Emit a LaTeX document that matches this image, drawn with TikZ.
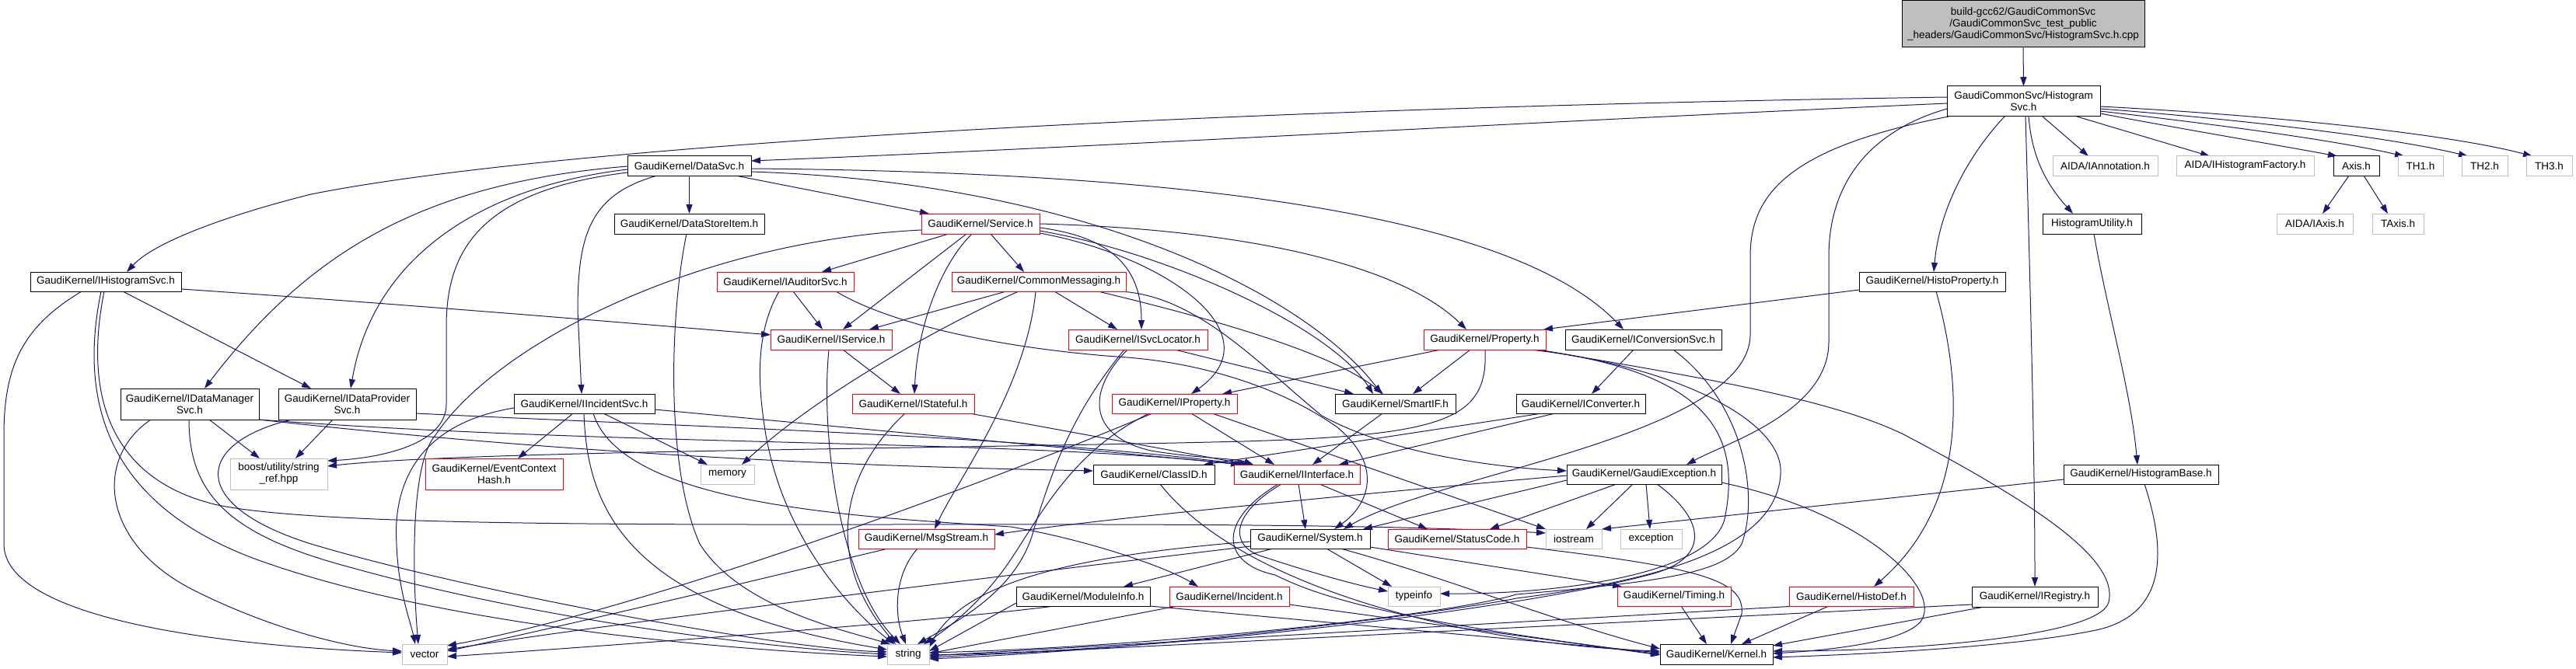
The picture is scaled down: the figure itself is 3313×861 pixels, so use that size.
\documentclass[tikz,border=0pt]{standalone}
\usepackage{fontspec}
\setmainfont{Liberation Sans}
\usetikzlibrary{arrows.meta}
\pgfdeclarelayer{edgelayer}
\pgfsetlayers{edgelayer,main}
\definecolor{edgec}{HTML}{191970}
\definecolor{gyb}{HTML}{BFBFBF}
\begin{document}
\begin{tikzpicture}[x=1pt,y=-1pt,
  box/.style={rectangle,inner sep=0pt,outer sep=0pt,line width=1pt,align=center,fill=white,font=\fontsize{13.5}{15}\selectfont},
  bk/.style={box,draw=black},
  rd/.style={box,draw=red},
  gy/.style={box,draw=gyb},
  rt/.style={box,draw=black,fill=gyb},
  ed/.style={draw=edgec,line width=1pt,-{Triangle[length=12pt,width=8pt]}}]
\useasboundingbox (0,0) rectangle (3313,861);
% ---------------- nodes ----------------
\node[rt,minimum width=312pt,minimum height=60pt] (root) at (2602,31) {build-gcc62/GaudiCommonSvc\\/GaudiCommonSvc\_test\_public\\\_headers/GaudiCommonSvc/HistogramSvc.h.cpp};
\node[bk,minimum width=197pt,minimum height=39pt] (hsvc) at (2602.5,130.5) {GaudiCommonSvc/Histogram\\Svc.h};
\node[bk,minimum width=159pt,minimum height=25pt] (datasvc) at (886.5,213.5) {GaudiKernel/DataSvc.h};
\node[bk,minimum width=194pt,minimum height=25pt] (ihsvc) at (136,362.5) {GaudiKernel/IHistogramSvc.h};
\node[bk,minimum width=178pt,minimum height=40pt] (idms) at (244,520) {GaudiKernel/IDataManager\\Svc.h};
\node[bk,minimum width=177pt,minimum height=40pt] (idps) at (446.5,520) {GaudiKernel/IDataProvider\\Svc.h};
\node[bk,minimum width=193pt,minimum height=26pt] (dsitem) at (886.5,288) {GaudiKernel/DataStoreItem.h};
\node[rd,minimum width=152pt,minimum height=26pt] (service) at (1261,288) {GaudiKernel/Service.h};
\node[rd,minimum width=176pt,minimum height=25pt] (iaud) at (1010,362.5) {GaudiKernel/IAuditorSvc.h};
\node[rd,minimum width=224pt,minimum height=25pt] (commsg) at (1336,362.5) {GaudiKernel/CommonMessaging.h};
\node[rd,minimum width=156pt,minimum height=26pt] (iservice) at (1069,437) {GaudiKernel/IService.h};
\node[rd,minimum width=179pt,minimum height=26pt] (isvcloc) at (1463.5,437) {GaudiKernel/ISvcLocator.h};
\node[rd,minimum width=157pt,minimum height=26pt] (property) at (1909.5,437) {GaudiKernel/Property.h};
\node[bk,minimum width=201pt,minimum height=26pt] (iconvsvc) at (2113.5,437) {GaudiKernel/IConversionSvc.h};
\node[bk,minimum width=188pt,minimum height=25pt] (histoprop) at (2485,362.5) {GaudiKernel/HistoProperty.h};
\node[bk,minimum width=127pt,minimum height=26pt] (histutil) at (2690.5,288) {HistogramUtility.h};
\node[gy,minimum width=135pt,minimum height=25pt] (aidaann) at (2707.5,213.5) {AIDA/IAnnotation.h};
\node[gy,minimum width=177pt,minimum height=25pt] (aidahf) at (2887.5,213.5) {AIDA/IHistogramFactory.h};
\node[bk,minimum width=59pt,minimum height=25pt] (axis) at (3030.5,213.5) {Axis.h};
\node[gy,minimum width=58pt,minimum height=25pt] (th1) at (3113,213.5) {TH1.h};
\node[gy,minimum width=59pt,minimum height=25pt] (th2) at (3195.5,213.5) {TH2.h};
\node[gy,minimum width=59pt,minimum height=25pt] (th3) at (3278.5,213.5) {TH3.h};
\node[gy,minimum width=98pt,minimum height=26pt] (aidaaxis) at (2977,288) {AIDA/IAxis.h};
\node[gy,minimum width=66pt,minimum height=26pt] (taxis) at (3084,288) {TAxis.h};
\node[bk,minimum width=181pt,minimum height=25pt] (iincsvc) at (751.5,519.5) {GaudiKernel/IIncidentSvc.h};
\node[rd,minimum width=157pt,minimum height=25pt] (istateful) at (1174.5,519.5) {GaudiKernel/IStateful.h};
\node[rd,minimum width=161pt,minimum height=25pt] (iproperty) at (1510.5,519.5) {GaudiKernel/IProperty.h};
\node[bk,minimum width=155pt,minimum height=25pt] (smartif) at (1794.5,519.5) {GaudiKernel/SmartIF.h};
\node[bk,minimum width=166pt,minimum height=25pt] (iconverter) at (2033,519.5) {GaudiKernel/IConverter.h};
\node[gy,minimum width=125pt,minimum height=40pt] (boost) at (358.5,610) {boost/utility/string\\\_ref.hpp};
\node[rd,minimum width=177pt,minimum height=40pt] (evch) at (635.5,610) {GaudiKernel/EventContext\\Hash.h};
\node[gy,minimum width=69pt,minimum height=25pt] (memory) at (935.5,610.5) {memory};
\node[bk,minimum width=156pt,minimum height=25pt] (classid) at (1484,610.5) {GaudiKernel/ClassID.h};
\node[rd,minimum width=162pt,minimum height=25pt] (iinterface) at (1668,610.5) {GaudiKernel/IInterface.h};
\node[bk,minimum width=199pt,minimum height=25pt] (gexc) at (2114.5,610.5) {GaudiKernel/GaudiException.h};
\node[bk,minimum width=199pt,minimum height=25pt] (histbase) at (2753.5,610.5) {GaudiKernel/HistogramBase.h};
\node[rd,minimum width=175pt,minimum height=25pt] (msgstream) at (1191.5,693.5) {GaudiKernel/MsgStream.h};
\node[bk,minimum width=154pt,minimum height=25pt] (system) at (1685,693.5) {GaudiKernel/System.h};
\node[rd,minimum width=178pt,minimum height=25pt] (statuscode) at (1874,693.5) {GaudiKernel/StatusCode.h};
\node[gy,minimum width=72pt,minimum height=25pt] (iostream) at (2024,693.5) {iostream};
\node[gy,minimum width=79pt,minimum height=25pt] (exception) at (2123.5,693.5) {exception};
\node[bk,minimum width=172pt,minimum height=25pt] (moduleinfo) at (1393,767.5) {GaudiKernel/ModuleInfo.h};
\node[rd,minimum width=154pt,minimum height=25pt] (incident) at (1581,767.5) {GaudiKernel/Incident.h};
\node[gy,minimum width=67pt,minimum height=25pt] (typeinfo) at (1818.5,767.5) {typeinfo};
\node[rd,minimum width=146pt,minimum height=25pt] (timing) at (2153,767.5) {GaudiKernel/Timing.h};
\node[rd,minimum width=160pt,minimum height=25pt] (histodef) at (2381,767.5) {GaudiKernel/HistoDef.h};
\node[bk,minimum width=162pt,minimum height=26pt] (iregistry) at (2617,768) {GaudiKernel/IRegistry.h};
\node[gy,minimum width=58pt,minimum height=26pt] (vector) at (546,842) {vector};
\node[gy,minimum width=54pt,minimum height=26pt] (string) at (1168,842) {string};
\node[bk,minimum width=145pt,minimum height=26pt] (kernel) at (2207.5,842) {GaudiKernel/Kernel.h};
% ---------------- edges ----------------
\begin{pgfonlayer}{edgelayer}
\draw[ed] (root.south) -- (hsvc.north);
\draw[ed] (hsvc.west |- 0,133) .. controls (1900,160) and (1400,190) .. (datasvc.east |- 0,207);
\draw[ed] (hsvc.west |- 0,125) .. controls (1500,140) and (700,190) .. (400,250) .. controls (300,275) and (200,310) .. (163,0 |- ihsvc.north);
\draw[ed] (2506,0 |- hsvc.south) .. controls (2300,190) and (2251,250) .. (2251,330) -- (2251,430) .. controls (2251,560) and (1850,610) .. (1728,0 |- system.north);
\draw[ed] (hsvc.west |- 0,140) .. controls (2400,170) and (2352,240) .. (2352,330) -- (2352,440) .. controls (2352,530) and (2220,570) .. (2169,0 |- gexc.north);
\draw[ed] (2578,0 |- hsvc.south) .. controls (2540,190) and (2495,260) .. (2487,0 |- histoprop.north);
\draw[ed] (2605,0 |- hsvc.south) .. controls (2612,400) and (2617,600) .. (2617,0 |- iregistry.north);
\draw[ed] (2609,0 |- hsvc.south) .. controls (2613,200) and (2630,235) .. (2666,0 |- histutil.north);
\draw[ed] (2627,0 |- hsvc.south) -- (2686,0 |- aidaann.north);
\draw[ed] (2671,0 |- hsvc.south) -- (2842,0 |- aidahf.north);
\draw[ed] (hsvc.east |- 0,146) .. controls (2800,165) and (2920,185) .. (3006,0 |- axis.north);
\draw[ed] (hsvc.east |- 0,143) .. controls (2850,160) and (3000,180) .. (3092,0 |- th1.north);
\draw[ed] (hsvc.east |- 0,140) .. controls (2900,155) and (3080,178) .. (3174,0 |- th2.north);
\draw[ed] (hsvc.east |- 0,137) .. controls (2950,150) and (3160,175) .. (3257,0 |- th3.north);
\draw[ed] (3021,0 |- axis.south) -- (2987,0 |- aidaaxis.north);
\draw[ed] (3040,0 |- axis.south) -- (3071,0 |- taxis.north);
\draw[ed] (2693,0 |- histutil.south) .. controls (2710,400) and (2740,500) .. (2749,0 |- histbase.north);
\draw[ed] (histbase.west |- 0,617) -- (iostream.north east);
\draw[ed] (2758,0 |- histbase.south) .. controls (2790,720) and (2780,790) .. (2700,810) .. controls (2600,832) and (2400,842) .. (kernel.east |- 0,846);
\draw[ed] (1978,0 |- property.south) .. controls (2150,480) and (2350,510) .. (2450,560) .. controls (2620,650) and (2725,720) .. (2712,775) .. controls (2700,820) and (2450,838) .. (kernel.east |- 0,838);
\draw[ed] (histoprop.west |- 0,373) -- (1985,0 |- property.north);
\draw[ed] (2490,0 |- histoprop.south) .. controls (2525,500) and (2530,650) .. (2410,0 |- histodef.north);
\draw[ed] (iregistry.west |- 0,778) -- (string.east |- 0,846);
\draw[ed] (2552,0 |- iregistry.south) -- (kernel.east |- 0,831);
\draw[ed] (2310,0 |- histodef.south) -- (string.east |- 0,844);
\draw[ed] (2352,0 |- histodef.south) -- (2240,0 |- kernel.north);
\draw[ed] (2162,0 |- timing.south) -- (2195,0 |- kernel.north);
\draw[ed] (statuscode.east |- 0,704) .. controls (2180,730) and (2245,745) .. (2240,790) -- (2226,0 |- kernel.north);
\draw[ed] (gexc.east |- 0,621) .. controls (2400,660) and (2500,760) .. (2470,800) .. controls (2445,830) and (2330,838) .. (kernel.east |- 0,841);
\draw[ed] (2100,0 |- gexc.south) -- (2040,0 |- iostream.north);
\draw[ed] (2117,0 |- gexc.south) -- (2122,0 |- exception.north);
\draw[ed] (2131,0 |- gexc.south) .. controls (2195,670) and (2200,720) .. (2120,740) .. controls (1950,785) and (1500,838) .. (string.east |- 0,843);
\draw[ed] (2079,0 |- gexc.south) -- (1916,0 |- statuscode.north);
\draw[ed] (gexc.west |- 0,618) -- (1753,0 |- system.north);
\draw[ed] (gexc.west |- 0,612) .. controls (1700,640) and (1400,670) .. (msgstream.east |- 0,688);
\draw[ed] (1724,0 |- system.south) .. controls (1850,740) and (2000,800) .. (kernel.west |- 0,835);
\draw[ed] (system.east |- 0,704) -- (2086,0 |- timing.north);
\draw[ed] (1706,0 |- system.south) -- (1790,0 |- typeinfo.north);
\draw[ed] (1637,0 |- system.south) -- (1445,0 |- moduleinfo.north);
\draw[ed] (system.west |- 0,697) .. controls (1380,715) and (1240,750) .. (string.east |- 0,833);
\draw[ed] (system.west |- 0,703) .. controls (1300,740) and (800,800) .. (vector.east |- 0,836);
\draw[ed] (1670,0 |- iinterface.south) -- (1679,0 |- system.north);
\draw[ed] (1697,0 |- iinterface.south) -- (1836,0 |- statuscode.north);
\draw[ed] (1648,0 |- iinterface.south) .. controls (1585,660) and (1580,700) .. (1620,715) .. controls (1680,735) and (1740,752) .. (typeinfo.west |- 0,761);
\draw[ed] (1644,0 |- iinterface.south) .. controls (1565,670) and (1570,725) .. (1640,740) .. controls (1700,770) and (1800,800) .. (kernel.west |- 0,842);
\draw[ed] (1492,0 |- classid.south) .. controls (1600,760) and (1900,830) .. (kernel.west |- 0,838);
\draw[ed] (1778,0 |- smartif.south) -- (1688,0 |- iinterface.north);
\draw[ed] (1532,0 |- iproperty.south) -- (1639,0 |- iinterface.north);
\draw[ed] (1478,0 |- iproperty.south) .. controls (1380,580) and (1340,660) .. (1300,720) .. controls (1260,780) and (1210,815) .. (1188,0 |- string.north);
\draw[ed] (1446,0 |- isvcloc.south) .. controls (1380,530) and (1355,600) .. (1330,680) .. controls (1310,760) and (1230,800) .. (1180,0 |- string.north);
\draw[ed] (1482,0 |- iproperty.south) .. controls (1200,650) and (800,790) .. (vector.east |- 0,831);
\draw[ed] (1559,0 |- iproperty.south) -- (iostream.north west);
\draw[ed] (1450,0 |- isvcloc.south) .. controls (1400,500) and (1395,560) .. (1480,580) .. controls (1540,590) and (1590,590) .. (1612,0 |- iinterface.north);
\draw[ed] (1511,0 |- isvcloc.south) -- (1741,0 |- smartif.north);
\draw[ed] (1853,0 |- property.south) -- (1572,0 |- iproperty.north);
\draw[ed] (1891,0 |- property.south) -- (1817,0 |- smartif.north);
\draw[ed] (1910,0 |- property.south) .. controls (1914,540) and (1860,560) .. (1600,568) .. controls (1200,578) and (600,580) .. (boost.east |- 0,600);
\draw[ed] (1975,0 |- property.south) .. controls (2200,480) and (2240,560) .. (2218,668) .. controls (2200,740) and (2000,765) .. (typeinfo.east |- 0,764);
\draw[ed] (1968,0 |- property.south) .. controls (2150,470) and (2295,540) .. (2290,610) .. controls (2285,700) and (2150,745) .. (1950,770) .. controls (1880,785) and (1500,835) .. (string.east |- 0,848);
\draw[ed] (2101,0 |- iconvsvc.south) -- (2047,0 |- iconverter.north);
\draw[ed] (2152,0 |- iconvsvc.south) .. controls (2245,520) and (2262,640) .. (2240,700) .. controls (2220,735) and (2150,748) .. (1950,765) .. controls (1870,790) and (1500,832) .. (string.east |- 0,840);
\draw[ed] (1983,0 |- iconverter.south) -- (1548,0 |- classid.north);
\draw[ed] (2000,0 |- iconverter.south) -- (1722,0 |- iinterface.north);
\draw[ed] (datasvc.south) -- (dsitem.north);
\draw[ed] (946,0 |- datasvc.south) -- (1195,0 |- service.north);
\draw[ed] (845,0 |- datasvc.south) .. controls (760,250) and (743,300) .. (743,400) -- (748,0 |- iincsvc.north);
\draw[ed] (datasvc.west |- 0,214) .. controls (550,235) and (400,320) .. (263,0 |- idms.north);
\draw[ed] (datasvc.west |- 0,218) .. controls (620,240) and (480,330) .. (451,0 |- idps.north);
\draw[ed] (datasvc.west |- 0,222) .. controls (620,245) and (574,320) .. (574,420) -- (574,520) .. controls (574,575) and (480,590) .. (boost.east |- 0,593);
\draw[ed] (datasvc.east |- 0,221) .. controls (1400,235) and (1680,380) .. (1777,0 |- smartif.north);
\draw[ed] (datasvc.east |- 0,217) .. controls (1600,222) and (1960,290) .. (2088,0 |- iconvsvc.north);
\draw[ed] (service.west |- 0,296) .. controls (900,310) and (640,440) .. (560,560) .. controls (525,600) and (532,760) .. (538,0 |- vector.north);
\draw[ed] (1220,0 |- service.south) -- (1057,0 |- iaud.north);
\draw[ed] (1243,0 |- service.south) -- (1084,0 |- iservice.north);
\draw[ed] (1274,0 |- service.south) -- (1317,0 |- commsg.north);
\draw[ed] (service.east |- 0,293) .. controls (1430,305) and (1468,345) .. (1468,0 |- isvcloc.north);
\draw[ed] (1250,0 |- service.south) .. controls (1210,340) and (1180,420) .. (1176,0 |- istateful.north);
\draw[ed] (service.east |- 0,300) .. controls (1500,330) and (1640,430) .. (1532,0 |- iproperty.north);
\draw[ed] (service.east |- 0,288) .. controls (1600,295) and (1800,340) .. (1886,0 |- property.north);
\draw[ed] (service.east |- 0,297) .. controls (1500,325) and (1710,420) .. (1766,0 |- smartif.north);
\draw[ed] (1412,0 |- commsg.south) .. controls (1600,420) and (1720,460) .. (1779,0 |- smartif.north);
\draw[ed] (1356,0 |- commsg.south) -- (1437,0 |- isvcloc.north);
\draw[ed] (1294,0 |- commsg.south) -- (1118,0 |- iservice.north);
\draw[ed] (1310,0 |- commsg.south) .. controls (1230,410) and (1060,500) .. (954,0 |- memory.north);
\draw[ed] (1332,0 |- commsg.south) .. controls (1320,500) and (1230,620) .. (1202,0 |- msgstream.north);
\draw[ed] (1440,0 |- commsg.south) .. controls (1540,380) and (1620,470) .. (1700,535) .. controls (1800,590) and (1950,603) .. (gexc.west |- 0,606);
\draw[ed] (1020,0 |- iaud.south) -- (1058,0 |- iservice.north);
\draw[ed] (1002,0 |- iaud.south) .. controls (970,430) and (975,500) .. (985,560) .. controls (1010,700) and (1100,790) .. (1150,0 |- string.north);
\draw[ed] (1075,0 |- iaud.south) .. controls (1150,420) and (1300,450) .. (1450,460) .. controls (1550,468) and (1650,500) .. (1720,550) .. controls (1780,600) and (1760,650) .. (1716,0 |- system.north);
\draw[ed] (1084,0 |- iservice.south) -- (1158,0 |- istateful.north);
\draw[ed] (1066,0 |- iservice.south) .. controls (1055,560) and (1080,750) .. (1158,0 |- string.north);
\draw[ed] (1247,0 |- istateful.south) -- (1606,0 |- iinterface.north);
\draw[ed] (1164,0 |- istateful.south) .. controls (1080,610) and (1060,720) .. (1152,0 |- string.north);
\draw[ed] (iincsvc.east |- 0,527) -- (1600,0 |- iinterface.north);
\draw[ed] (776,0 |- iincsvc.south) -- (910,0 |- memory.north);
\draw[ed] (737,0 |- iincsvc.south) -- (666,0 |- evch.north);
\draw[ed] (763,0 |- iincsvc.south) .. controls (800,650) and (1100,665) .. (1300,678) .. controls (1400,695) and (1500,730) .. (1541,0 |- incident.north);
\draw[ed] (751,0 |- iincsvc.south) .. controls (755,650) and (800,780) .. (string.west |- 0,836);
\draw[ed] (iincsvc.west |- 0,525) .. controls (540,545) and (505,620) .. (510,700) .. controls (512,760) and (528,800) .. (534,0 |- vector.north);
\draw[ed] (158,0 |- ihsvc.south) -- (400,0 |- idps.north);
\draw[ed] (ihsvc.east |- 0,372) .. controls (500,390) and (800,415) .. (iservice.west |- 0,431);
\draw[ed] (105,0 |- ihsvc.south) .. controls (30,420) and (5,470) .. (5,560) -- (5,700) .. controls (5,790) and (250,830) .. (vector.west |- 0,840);
\draw[ed] (130,0 |- ihsvc.south) .. controls (100,520) and (140,650) .. (330,720) .. controls (550,800) and (900,835) .. (string.west |- 0,845);
\draw[ed] (134,0 |- ihsvc.south) .. controls (105,520) and (150,620) .. (280,650) .. controls (500,695) and (1500,660) .. (iostream.west |- 0,686);
\draw[ed] (269,0 |- idms.south) -- (334,0 |- boost.north);
\draw[ed] (194,0 |- idms.south) .. controls (120,590) and (130,700) .. (250,760) .. controls (350,810) and (450,835) .. (vector.west |- 0,838);
\draw[ed] (243,0 |- idms.south) .. controls (243,640) and (300,690) .. (450,730) .. controls (700,800) and (1000,835) .. (string.west |- 0,842);
\draw[ed] (idms.south east) .. controls (800,592) and (1200,602) .. (classid.west |- 0,606);
\draw[ed] (idms.south east) .. controls (800,575) and (1300,565) .. (1595,0 |- iinterface.north);
\draw[ed] (428,0 |- idps.south) -- (380,0 |- boost.north);
\draw[ed] (idps.east |- 0,532) .. controls (900,550) and (1300,560) .. (1603,0 |- iinterface.north);
\draw[ed] (375,0 |- idps.south) .. controls (250,570) and (240,650) .. (400,700) .. controls (600,760) and (1000,835) .. (string.west |- 0,839);
\draw[ed] (883,0 |- dsitem.south) .. controls (862,400) and (855,600) .. (900,700) .. controls (950,780) and (1080,810) .. (1145,0 |- string.north);
\draw[ed] (1180,0 |- msgstream.south) .. controls (1150,740) and (1150,790) .. (1165,0 |- string.north);
\draw[ed] (1142,0 |- msgstream.south) .. controls (1000,740) and (750,800) .. (vector.east |- 0,838);
\draw[ed] (moduleinfo.west |- 0,776) -- (string.east |- 0,838);
\draw[ed] (1356,0 |- moduleinfo.south) .. controls (1200,800) and (800,830) .. (vector.east |- 0,845);
\draw[ed] (moduleinfo.south east) -- (kernel.west |- 0,840);
\draw[ed] (1514,0 |- incident.south) -- (string.east |- 0,841);
\draw[ed] (incident.east |- 0,778) -- (kernel.west |- 0,843);
\end{pgfonlayer}
\end{tikzpicture}
\end{document}
